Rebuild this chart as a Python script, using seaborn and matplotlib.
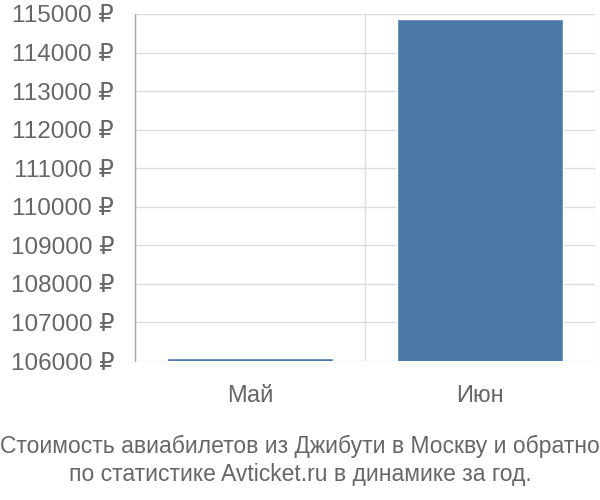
import seaborn as sns
import matplotlib.pyplot as plt
import pandas as pd

months = ['Май', 'Июн']
prices = [106070, 114870]
y_ticks = list(range(106000, 116000, 1000))
caption = ('Стоимость авиабилетов из Джибути в Москву и обратно\n'
           'по статистике Avticket.ru в динамике за год.')

sns.set_theme(style='white')
plt.rcParams['font.family'] = ['Liberation Sans', 'DejaVu Sans']

text_color = '#666666'
grid_color = '#dddddd'
axis_color = '#aaaaaa'

fig = plt.figure(figsize=(6, 5), dpi=100)
ax = fig.add_axes([0.225, 0.278, 0.767, 0.694])

df = pd.DataFrame({'month': months, 'price': prices})
sns.barplot(data=df, x='month', y='price', color='#4c78a8', saturation=1,
            width=0.72, ax=ax, zorder=3)

ax.set_ylim(106000, 115000)
ax.set_xlim(-0.5, 1.5)
ax.set_yticks(y_ticks)
ax.set_yticklabels(['{} ₽'.format(v) for v in y_ticks])
ax.set_xlabel('')
ax.set_ylabel('')

# horizontal grid
ax.yaxis.grid(True, color=grid_color, linewidth=1, zorder=0)
ax.tick_params(axis='y', length=14, color=grid_color, width=1, pad=1,
               labelsize=17.5, labelcolor=text_color)

# category boundaries as long minor ticks + vertical grid
ax.set_xticks([-0.5, 0.5, 1.5], minor=True)
ax.xaxis.grid(True, which='minor', color=grid_color, linewidth=1, zorder=0)
ax.tick_params(axis='x', which='minor', length=15, color=grid_color, width=1)
ax.tick_params(axis='x', which='major', length=0, pad=17,
               labelsize=17, labelcolor=text_color)
ax.xaxis.get_minor_ticks()[0].tick1line.set_color(axis_color)

for side in ['top', 'right', 'bottom']:
    ax.spines[side].set_visible(False)
ax.spines['left'].set_color(axis_color)
ax.spines['left'].set_linewidth(1)

fig.text(0.5, 0.079, caption, ha='center', va='center', fontsize=16.5,
         color=text_color, linespacing=1.3)

fig.savefig('out.png', dpi=100)
